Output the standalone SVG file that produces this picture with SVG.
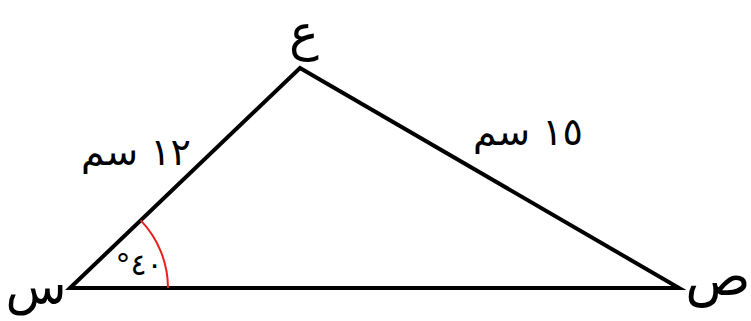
<svg xmlns="http://www.w3.org/2000/svg" width="751" height="321" viewBox="0 0 751 321">
<style>
.side{stroke:#000;stroke-width:4;fill:none;stroke-linejoin:miter;stroke-linecap:butt}
.arc{stroke:#e8211d;stroke-width:2;fill:none}
.vl{font-family:"DejaVu Sans",sans-serif;fill:#000}
.ml{font-family:"DejaVu Sans",sans-serif;font-size:38px;fill:#000}
.al{font-family:"DejaVu Sans",sans-serif;font-size:30px;fill:#000}
</style>
<rect width="751" height="321" fill="#fff"/>
<g id="connectors">
<polygon class="side" points="70,288 300,68 679,288"/>
<path class="arc" d="M 140.7,220.4 A 98 98 0 0 1 168,288"/>
</g>
<g id="vertex-s"><text class="vl" x="36" y="304" font-size="50" text-anchor="middle">س</text></g>
<g id="vertex-ayn"><text class="vl" x="304" y="50" font-size="50" text-anchor="middle">ع</text></g>
<g id="vertex-sad"><text class="vl" x="718" y="295" font-size="54" text-anchor="middle">ص</text></g>
<g id="label-12"><text class="ml" x="136" y="165" text-anchor="middle" direction="rtl">١٢ سم</text></g>
<g id="label-15"><text class="ml" x="528" y="145" text-anchor="middle" direction="rtl">١٥ سم</text></g>
<g id="angle-40"><text class="al" x="139" y="275" text-anchor="middle" direction="rtl">٤٠°</text></g>
</svg>
